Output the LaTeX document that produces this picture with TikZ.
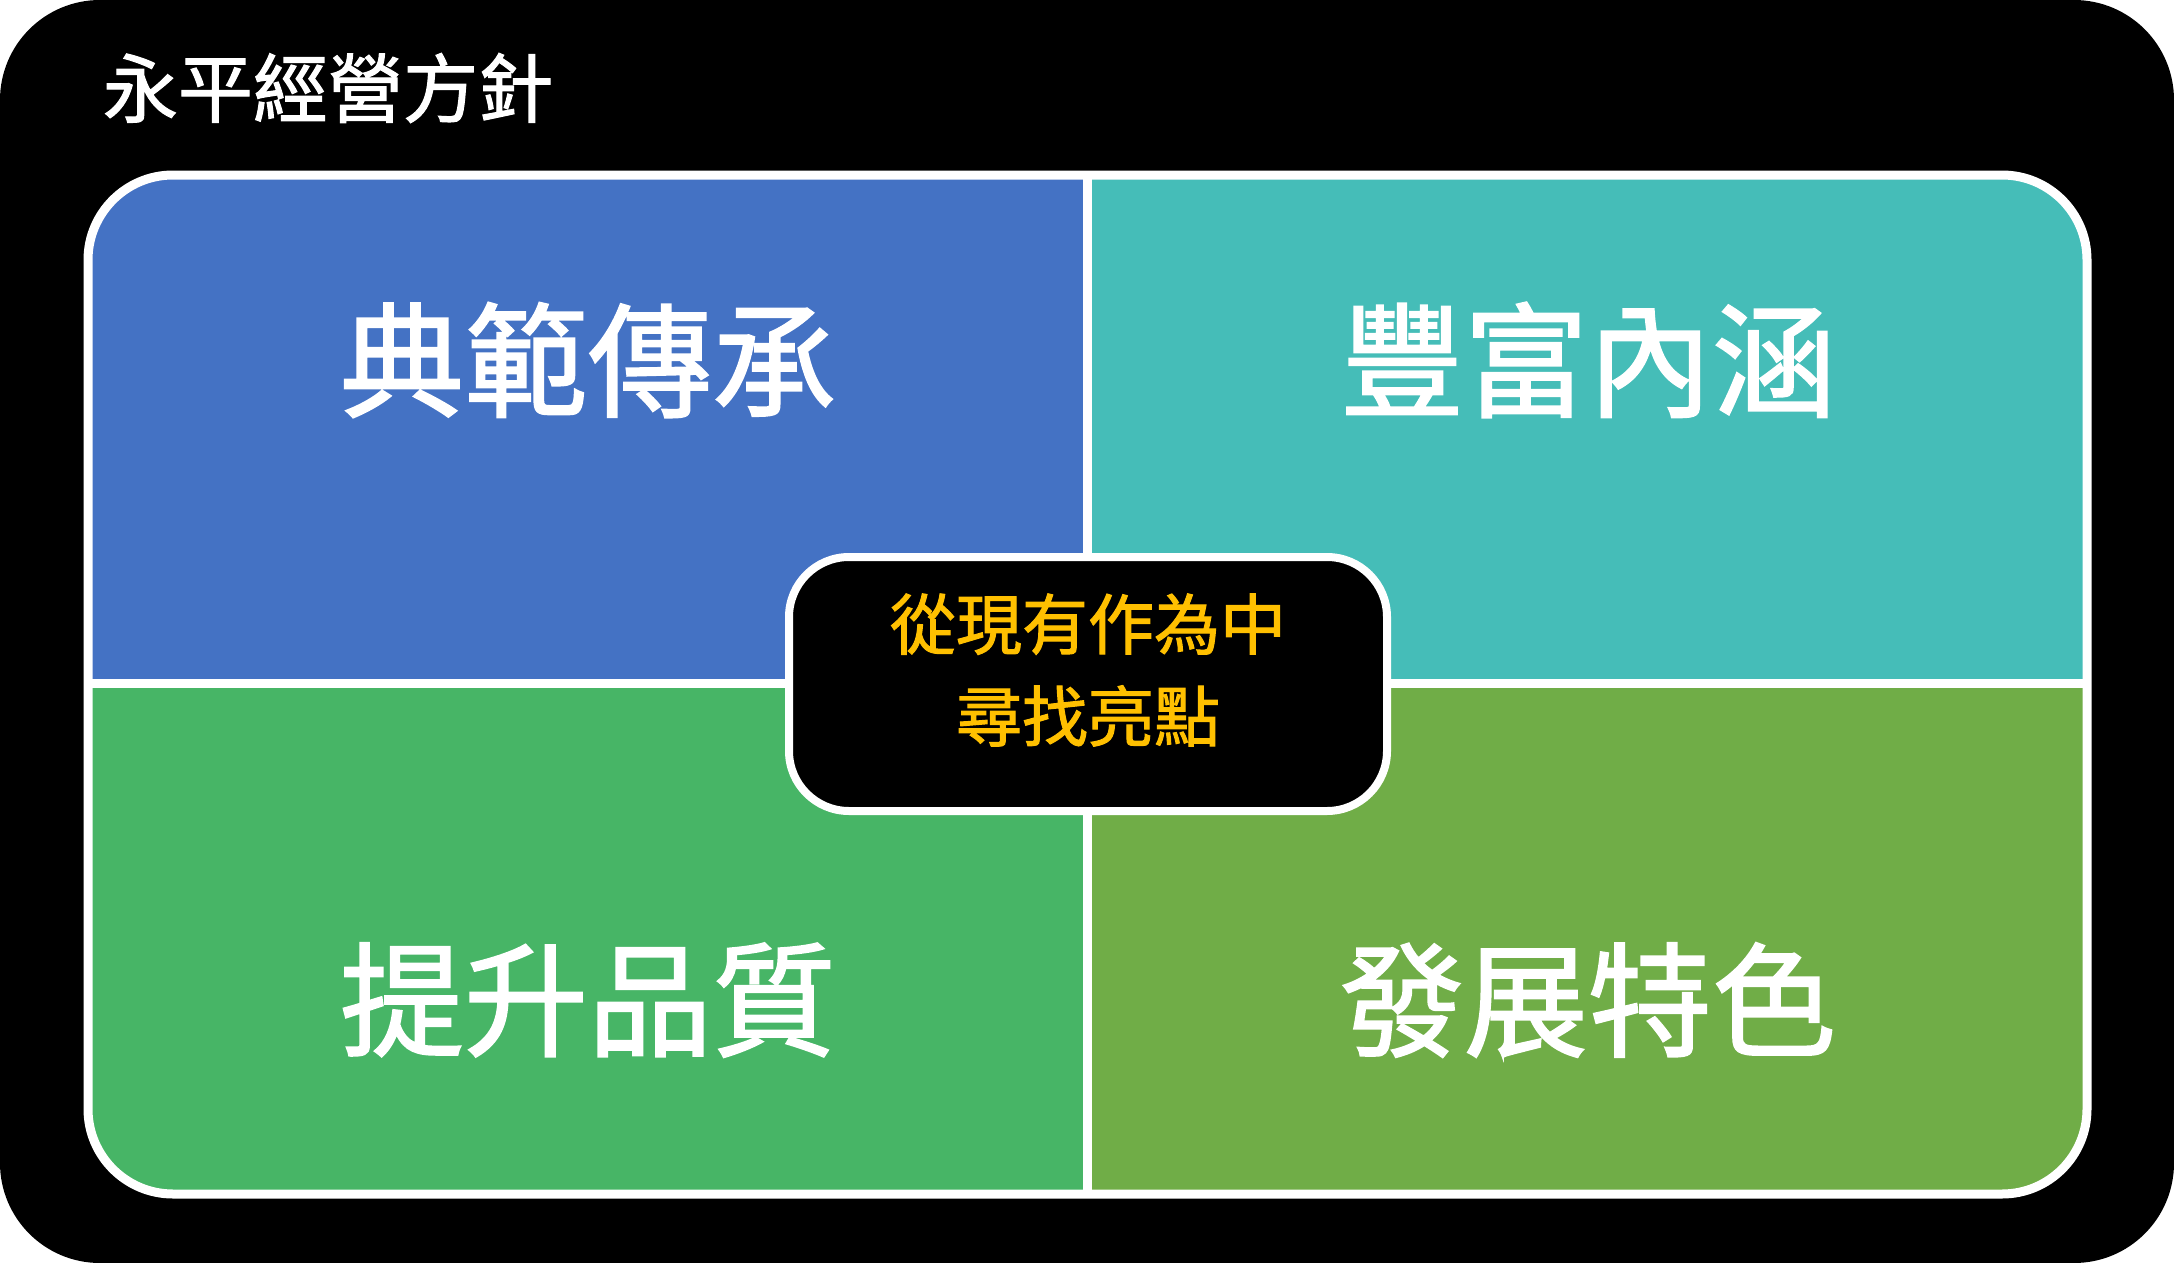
\documentclass[tikz,border=0pt]{standalone}
\usepackage{fontspec}
\newfontfamily\cjk{Noto Sans CJK TC}[FakeBold=1.5]
\definecolor{heritage}{HTML}{4472C4}
\definecolor{richness}{HTML}{45BDB8}
\definecolor{quality}{HTML}{47B566}
\definecolor{feature}{HTML}{70AD47}
\definecolor{highlight}{HTML}{FFC000}

\tikzset{
  quadtext/.style={text=white, font=\cjk\fontsize{124}{140}\selectfont},
  divider/.style={draw=white, line width=9pt}
}

\begin{document}
\begin{tikzpicture}[x=1pt,y=-1pt]
  \useasboundingbox (0,0) rectangle (2174,1263);
  \fill[black, rounded corners=100pt] (0,0) rectangle (2174,1263);

  % four quadrants
  \begin{scope}
    \clip[rounded corners=85pt] (88,175) rectangle (2087,1194);
    \fill[heritage] (88,175) rectangle (1087,683);
    \fill[richness] (1087,175) rectangle (2087,683);
    \fill[quality]  (88,683) rectangle (1087,1194);
    \fill[feature]  (1087,683) rectangle (2087,1194);
  \end{scope}
  \draw[divider] (1087,175) -- (1087,1194);
  \draw[divider] (88,683) -- (2087,683);
  \draw[divider, rounded corners=85pt] (88,175) rectangle (2087,1194);

  \node[text=white, font=\cjk\fontsize{75}{90}\selectfont] (title) at (328,88) {永平經營方針};

  \node[quadtext] (dianfan) at (588,360)  {典範傳承};
  \node[quadtext] (fengfu)  at (1588,360) {豐富內涵};
  \node[quadtext] (tisheng) at (588,1000) {提升品質};
  \node[quadtext] (fazhan)  at (1588,1000) {發展特色};

  \node[draw=white, fill=black, line width=8pt, rounded corners=60pt,
        minimum width=598pt, minimum height=254pt] (core) at (1088,684) {};
  \node[text=highlight, align=center, font=\cjk\fontsize{66}{92}\selectfont]
    (corelabel) at (1088,670) {從現有作為中\\尋找亮點};
\end{tikzpicture}
\end{document}
